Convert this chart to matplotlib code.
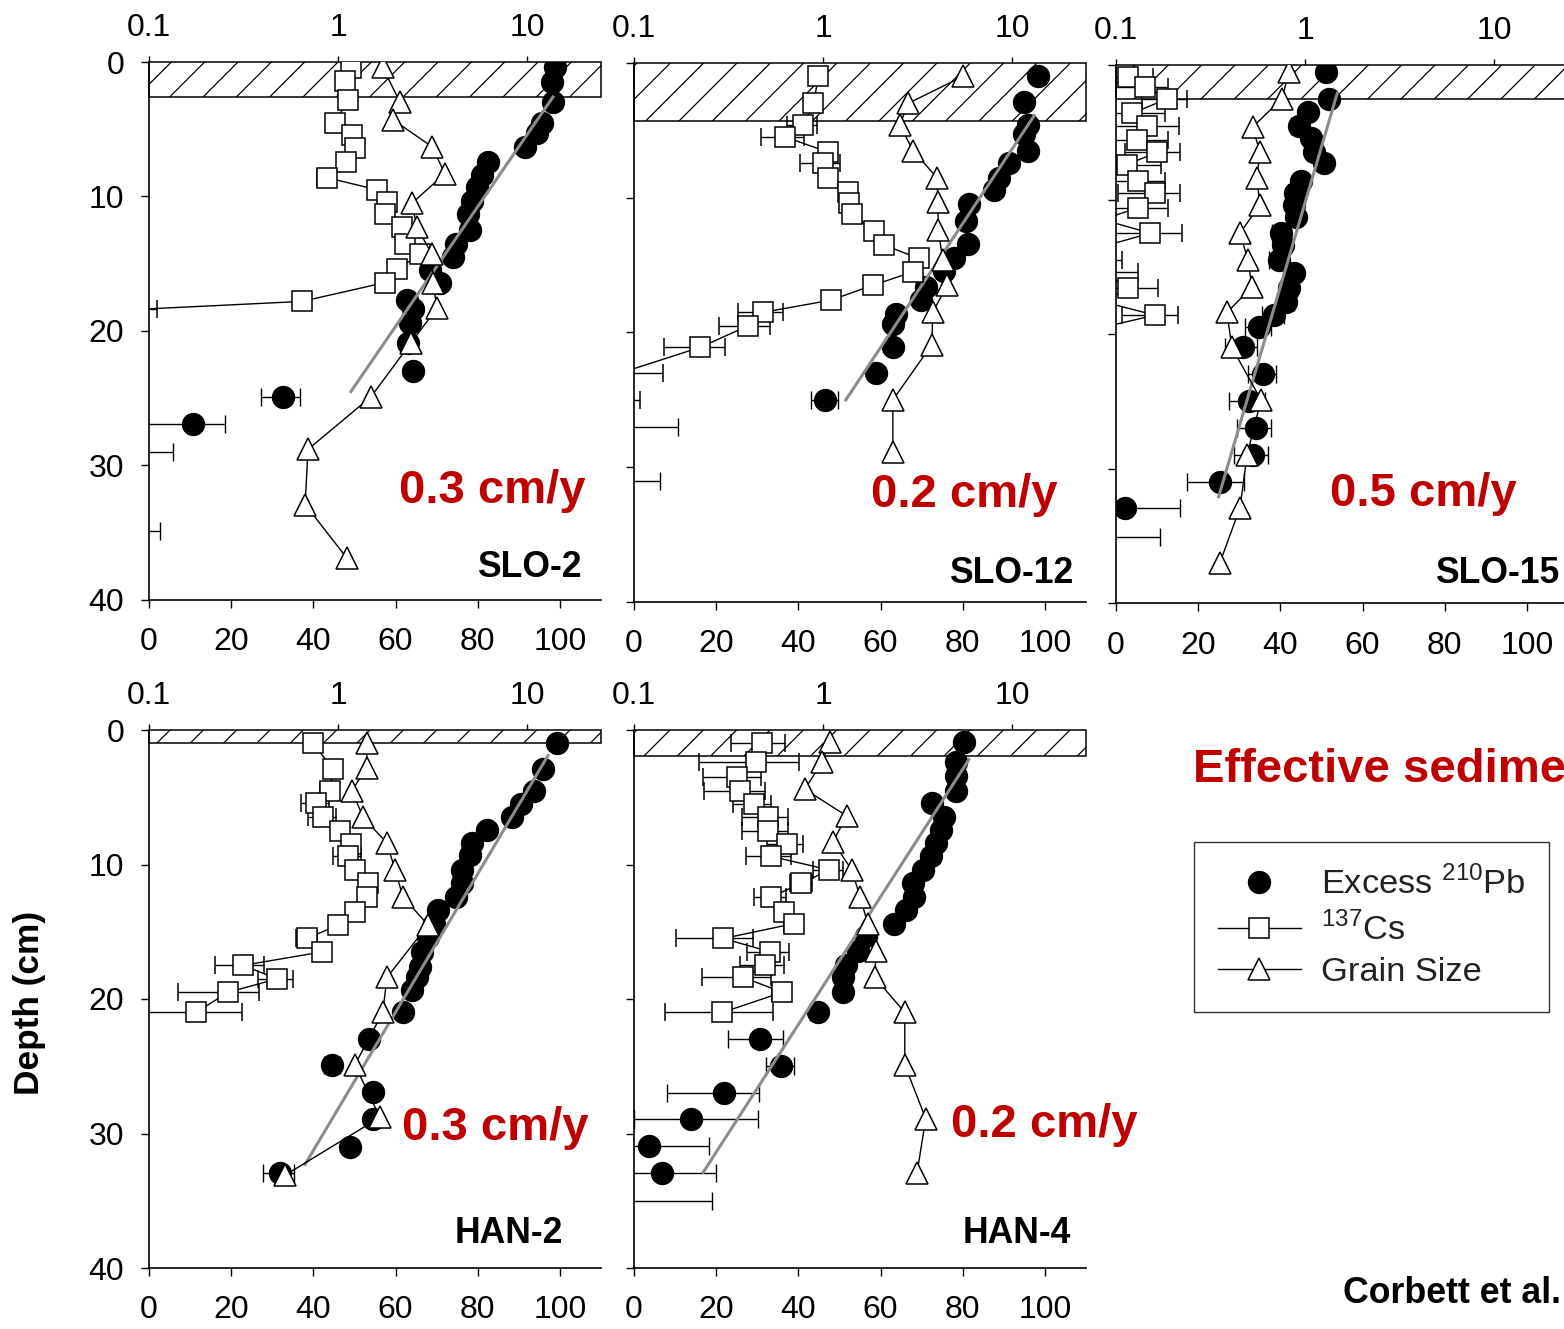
import numpy as np
import matplotlib
matplotlib.use("Agg")
import matplotlib.pyplot as plt
from matplotlib.patches import Rectangle
from matplotlib.lines import Line2D
from matplotlib.ticker import NullLocator

plt.rcParams['font.family'] = 'Liberation Sans'
plt.rcParams['mathtext.fontset'] = 'custom'
plt.rcParams['mathtext.rm'] = 'Liberation Sans'
plt.rcParams['hatch.linewidth'] = 0.45

# ---- SLO-2 ----
slo2_pb_depth = [0.4, 1.5, 3.0, 4.5, 5.3, 6.3, 7.4, 8.4, 9.3, 10.3, 11.3, 12.5, 13.5, 14.5, 15.5, 16.4,
                 17.7, 18.4, 19.4, 20.9, 23.0, 24.9, 26.9, 29.0, 34.9]
slo2_pb = [14.1, 13.6, 13.7, 12.0, 11.3, 9.75, 6.22, 5.78, 5.44, 5.12, 4.87, 4.99, 4.21, 4.06, 3.07, 3.47,
           2.32, 2.49, 2.40, 2.35, 2.49, 0.51, 0.17, 0.085, 0.085]
slo2_pb_err = [0.5, 0.5, 0.5, 0.45, 0.4, 0.35, 0.25, 0.22, 0.2, 0.2, 0.2, 0.2, 0.18, 0.18, 0.15, 0.15,
               0.12, 0.12, 0.12, 0.12, 0.12, 0.12, 0.083, 0.049, 0.029]
slo2_cs_depth = [0.45, 1.4, 2.8, 4.5, 5.4, 6.4, 7.4, 8.6, 9.5, 10.4, 11.3, 12.3, 13.5, 14.3, 15.4, 16.4, 17.8, 18.4]
slo2_cs = [1.17, 1.09, 1.13, 0.964, 1.19, 1.23, 1.10, 0.874, 1.61, 1.82, 1.77, 2.18, 2.26, 2.72, 2.05, 1.77,
           0.645, 0.085]
slo2_cs_err = [0.06, 0.06, 0.06, 0.05, 0.06, 0.06, 0.06, 0.1, 0.08, 0.09, 0.09, 0.1, 0.1, 0.12, 0.1, 0.09,
               0.05, 0.025]
slo2_gs_depth = [0.4, 3.0, 4.3, 6.3, 8.3, 10.5, 12.3, 14.3, 16.4, 18.3, 20.9, 24.9, 28.8, 32.9, 36.9]
slo2_gs = [56.9, 61.1, 59.4, 68.9, 72.0, 64.0, 65.2, 68.9, 69.1, 70.1, 63.7, 54.0, 38.7, 38.0, 48.2]
slo2_fit_depth = [2.6, 24.5]
slo2_fit = [13.7, 1.17]
slo2_mixed = 2.6

# ---- SLO-12 ----
slo12_pb_depth = [1.0, 2.9, 4.6, 5.3, 6.5, 7.4, 8.5, 9.4, 10.5, 11.7, 13.4, 14.5, 15.4, 16.6, 17.6, 18.6,
                  19.4, 21.1, 23.0, 25.0, 27.0, 31.0]
slo12_pb = [13.7, 11.6, 12.2, 11.6, 12.2, 9.64, 8.53, 8.03, 5.91, 5.70, 5.84, 4.92, 4.36, 3.50, 3.29, 2.43,
            2.34, 2.34, 1.90, 1.03, 0.085, 0.085]
slo12_pb_err = [0.5, 0.45, 0.45, 0.45, 0.45, 0.4, 0.35, 0.3, 0.25, 0.25, 0.25, 0.2, 0.2, 0.15, 0.15, 0.12,
                0.12, 0.12, 0.1, 0.17, 0.086, 0.052]
slo12_cs_depth = [1.0, 3.0, 4.6, 5.5, 6.6, 7.4, 8.5, 9.6, 10.4, 11.2, 12.5, 13.5, 14.5, 15.5, 16.5, 17.6,
                  18.5, 19.5, 21.1, 23.0, 25.0]
slo12_cs = [0.946, 0.890, 0.788, 0.632, 1.06, 0.994, 1.06, 1.35, 1.37, 1.43, 1.85, 2.09, 3.21, 2.99, 1.83,
            1.10, 0.484, 0.402, 0.224, 0.085, 0.085]
slo12_cs_err = [0.05, 0.05, 0.14, 0.16, 0.08, 0.24, 0.08, 0.12, 0.08, 0.08, 0.1, 0.1, 0.12, 0.12, 0.1, 0.07,
                0.13, 0.12, 0.08, 0.057, 0.022]
slo12_gs_depth = [1.0, 3.0, 4.6, 6.5, 8.5, 10.3, 12.4, 14.6, 16.5, 18.5, 20.9, 25.0, 28.9]
slo12_gs = [80.0, 66.7, 64.7, 67.9, 73.7, 74.0, 74.0, 75.2, 76.2, 72.7, 72.5, 63.0, 63.0]
slo12_fit_depth = [3.9, 25.0]
slo12_fit = [13.1, 1.32]
slo12_mixed = 4.3

# ---- SLO-15 ----
slo15_pb_depth = [0.5, 2.5, 3.5, 4.5, 5.4, 6.5, 7.3, 8.6, 9.5, 10.4, 11.3, 12.5, 13.4, 14.5, 15.5, 16.6,
                  17.6, 18.6, 19.5, 21.0, 23.0, 25.0, 27.0, 29.0, 31.0, 32.9, 35.1]
slo15_pb = [1.29, 1.34, 1.04, 0.929, 1.08, 1.12, 1.26, 0.952, 0.885, 0.874, 0.896, 0.745, 0.764, 0.727,
            0.874, 0.822, 0.793, 0.684, 0.569, 0.468, 0.598, 0.504, 0.549, 0.529, 0.357, 0.112, 0.085]
slo15_pb_err = [0.06, 0.06, 0.06, 0.09, 0.06, 0.06, 0.06, 0.07, 0.07, 0.07, 0.07, 0.08, 0.08, 0.08, 0.08,
                0.08, 0.08, 0.09, 0.09, 0.09, 0.1, 0.11, 0.11, 0.11, 0.12, 0.107, 0.086]
slo15_cs_depth = [0.9, 1.6, 2.5, 3.6, 4.5, 5.6, 6.5, 7.4, 8.6, 9.5, 10.6, 11.5, 12.5, 13.5, 14.5, 15.4,
                  16.6, 17.6, 18.6, 19.5]
slo15_cs = [0.116, 0.143, 0.187, 0.122, 0.146, 0.129, 0.165, 0.114, 0.131, 0.161, 0.131, 0.085, 0.152,
            0.085, 0.085, 0.085, 0.116, 0.085, 0.161, 0.085]
slo15_cs_err = [0.04, 0.046, 0.05, 0.06, 0.07, 0.06, 0.054, 0.06, 0.05, 0.058, 0.058, 0.005, 0.072, 0.005,
                0.023, 0.046, 0.05, 0.005, 0.053, 0.005]
slo15_gs_depth = [0.5, 2.5, 4.6, 6.5, 8.4, 10.4, 12.5, 14.5, 16.5, 18.4, 21.0, 24.9, 29.0, 32.9, 37.0]
slo15_gs = [42.1, 40.4, 33.3, 35.0, 34.3, 35.0, 30.2, 32.1, 33.1, 27.0, 28.2, 35.3, 31.9, 30.2, 25.3]
slo15_fit_depth = [2.1, 32.1]
slo15_fit = [1.48, 0.349]
slo15_mixed = 2.5

# ---- HAN-2 ----
han2_pb_depth = [1.0, 2.9, 4.5, 5.5, 6.5, 7.4, 8.4, 9.3, 10.4, 11.4, 12.4, 13.4, 14.4, 15.4, 16.5, 17.6,
                 18.4, 19.3, 21.0, 23.0, 24.9, 26.9, 28.9, 31.0, 32.9]
han2_pb = [14.4, 12.2, 10.9, 9.30, 8.33, 6.14, 5.12, 4.99, 4.53, 4.53, 4.21, 3.38, 3.2, 2.99, 2.78, 2.72,
           2.62, 2.46, 2.21, 1.46, 0.929, 1.53, 1.53, 1.16, 0.493]
han2_pb_err = [0.5, 0.45, 0.4, 0.35, 0.3, 0.25, 0.2, 0.2, 0.18, 0.18, 0.17, 0.14, 0.13, 0.12, 0.12, 0.11,
               0.11, 0.1, 0.1, 0.08, 0.09, 0.08, 0.08, 0.07, 0.09]
han2_cs_depth = [1.0, 2.9, 4.5, 5.4, 6.5, 7.5, 8.5, 9.4, 10.4, 11.4, 12.4, 13.5, 14.5, 15.5, 16.5, 17.5,
                 18.5, 19.5, 21.0]
han2_cs = [0.738, 0.941, 0.907, 0.765, 0.833, 1.03, 1.17, 1.13, 1.23, 1.44, 1.42, 1.23, 1.0, 0.686, 0.823,
           0.314, 0.476, 0.262, 0.177]
han2_cs_err = [0.04, 0.05, 0.1, 0.13, 0.14, 0.06, 0.07, 0.19, 0.07, 0.08, 0.08, 0.07, 0.06, 0.09, 0.07,
               0.09, 0.1, 0.12, 0.133]
han2_gs_depth = [1.0, 2.8, 4.5, 6.5, 8.4, 10.4, 12.4, 14.5, 18.4, 21.0, 24.9, 28.8, 33.1]
han2_gs = [53.0, 53.0, 49.4, 52.1, 57.9, 59.9, 61.8, 67.9, 57.9, 56.9, 50.1, 56.2, 33.1]
han2_fit_depth = [1.9, 32.3]
han2_fit = [12.9, 0.669]
han2_mixed = 1.0

# ---- HAN-4 ----
han4_pb_depth = [0.9, 2.4, 3.4, 4.5, 5.4, 6.5, 7.4, 8.4, 9.4, 10.4, 11.4, 12.4, 13.4, 14.4, 15.3, 16.4,
                 17.5, 18.4, 19.5, 21.0, 23.0, 25.0, 27.0, 28.9, 30.9, 32.9, 35.0]
han4_pb = [5.56, 5.05, 5.05, 5.05, 3.76, 4.36, 4.20, 3.95, 3.72, 3.37, 2.99, 3.02, 2.74, 2.37, 1.68, 1.54,
           1.33, 1.28, 1.27, 0.935, 0.466, 0.602, 0.300, 0.201, 0.120, 0.141, 0.085]
han4_pb_err = [0.2, 0.2, 0.2, 0.2, 0.15, 0.15, 0.15, 0.15, 0.15, 0.13, 0.12, 0.12, 0.1, 0.1, 0.08, 0.08,
               0.07, 0.07, 0.07, 0.08, 0.15, 0.1, 0.16, 0.25, 0.13, 0.13, 0.174]
han4_cs_depth = [1.0, 2.4, 3.5, 4.5, 5.5, 6.5, 7.5, 8.5, 9.4, 10.4, 11.4, 12.4, 13.5, 14.4, 15.5, 16.5,
                 17.5, 18.4, 19.5, 21.0]
han4_cs = [0.477, 0.444, 0.352, 0.365, 0.433, 0.514, 0.514, 0.648, 0.533, 1.08, 0.769, 0.533, 0.625, 0.698,
           0.297, 0.527, 0.495, 0.379, 0.610, 0.293]
han4_cs_err = [0.15, 0.3, 0.12, 0.13, 0.1, 0.14, 0.14, 0.14, 0.14, 0.2, 0.1, 0.1, 0.07, 0.08, 0.13, 0.13,
               0.13, 0.15, 0.07, 0.25]
han4_gs_depth = [0.9, 2.4, 4.4, 6.4, 8.3, 10.4, 12.4, 14.4, 16.4, 18.4, 21.0, 24.9, 28.9, 32.9]
han4_gs = [47.7, 45.7, 41.6, 51.8, 48.4, 53.0, 55.0, 56.9, 58.9, 58.6, 65.9, 65.9, 71.0, 68.9]
han4_fit_depth = [2.2, 32.9]
han4_fit = [5.91, 0.232]
han4_mixed = 1.9

W, H = 1564, 1329
fig = plt.figure(figsize=(W / 200, H / 200), dpi=200)
fig.patch.set_facecolor('white')

TICK = 11.5


def px_rect(left, top, bottom, width=452):
    return [left / W, 1 - bottom / H, width / W, (bottom - top) / H]


def draw_core(rect, pb_d, pb, pb_e, cs_d, cs, cs_e, gs_d, gs, fit_d, fit, mixed, ylabels):
    ax = fig.add_axes(rect)
    ax.set_xscale('log')
    gx = ax.twiny()
    ax.set_xlim(0.1, 24.6)
    ax.set_ylim(40, 0)
    gx.set_xlim(0, 110)

    ax.xaxis.tick_top()
    ax.set_xticks([0.1, 1, 10])
    ax.set_xticklabels(['0.1', '1', '10'])
    ax.xaxis.set_minor_locator(NullLocator())
    ax.tick_params(axis='x', which='major', direction='out', length=2.2, width=0.5,
                   pad=4.5, labelsize=TICK, top=True, bottom=False, labeltop=True, labelbottom=False)
    ax.set_yticks([0, 10, 20, 30, 40])
    ax.tick_params(axis='y', direction='out', length=2.9, width=0.5, pad=6,
                   labelsize=TICK, labelleft=ylabels)
    for s in ['top', 'right', 'bottom']:
        ax.spines[s].set_visible(False)
    ax.spines['left'].set_linewidth(0.6)

    gx.xaxis.tick_bottom()
    gx.set_xticks([0, 20, 40, 60, 80, 100])
    gx.tick_params(axis='x', direction='out', length=2.9, width=0.5, pad=7, labelsize=TICK,
                   bottom=True, top=False, labelbottom=True, labeltop=False)
    for s in ['top', 'right', 'left']:
        gx.spines[s].set_visible(False)
    gx.spines['bottom'].set_linewidth(0.6)

    # surface mixed layer
    ax.add_patch(Rectangle((0, 0), 1, mixed, transform=ax.get_yaxis_transform(),
                           facecolor='none', edgecolor='black', hatch='//', lw=0.55,
                           clip_on=False, zorder=1))

    pb = np.array(pb)
    pb_e = np.array(pb_e)
    ax.errorbar(pb, pb_d, xerr=[np.minimum(pb_e, 0.5 * pb), pb_e], fmt='o', ms=7.4,
                mfc='black', mec='black', ecolor='black', elinewidth=0.5, capsize=3.2,
                capthick=0.5, zorder=3)
    ax.plot(fit, fit_d, color='#8c8c8c', lw=1.1, zorder=4)

    cs = np.array(cs)
    cs_e = np.array(cs_e)
    ax.errorbar(cs, cs_d, xerr=[np.minimum(cs_e, 0.5 * cs), cs_e], fmt='-s', ms=7,
                mfc='white', mec='black', mew=0.55, color='black', lw=0.5,
                ecolor='black', elinewidth=0.5, capsize=3.2, capthick=0.5, zorder=5)

    gx.plot(gs, gs_d, '-^', ms=7.6, mfc='white', mec='black', mew=0.55, color='black', lw=0.5,
            zorder=6)
    return ax


draw_core(px_rect(149, 62, 600), slo2_pb_depth, slo2_pb, slo2_pb_err, slo2_cs_depth, slo2_cs,
          slo2_cs_err, slo2_gs_depth, slo2_gs, slo2_fit_depth, slo2_fit, slo2_mixed, True)
draw_core(px_rect(634, 63, 602), slo12_pb_depth, slo12_pb, slo12_pb_err, slo12_cs_depth, slo12_cs,
          slo12_cs_err, slo12_gs_depth, slo12_gs, slo12_fit_depth, slo12_fit, slo12_mixed, False)
draw_core(px_rect(1116, 65, 603), slo15_pb_depth, slo15_pb, slo15_pb_err, slo15_cs_depth, slo15_cs,
          slo15_cs_err, slo15_gs_depth, slo15_gs, slo15_fit_depth, slo15_fit, slo15_mixed, False)
draw_core(px_rect(149, 730, 1268), han2_pb_depth, han2_pb, han2_pb_err, han2_cs_depth, han2_cs,
          han2_cs_err, han2_gs_depth, han2_gs, han2_fit_depth, han2_fit, han2_mixed, True)
draw_core(px_rect(634, 730, 1268), han4_pb_depth, han4_pb, han4_pb_err, han4_cs_depth, han4_cs,
          han4_cs_err, han4_gs_depth, han4_gs, han4_fit_depth, han4_fit, han4_mixed, False)


def ftext(x, y, s, **kw):
    fig.text(x / W, 1 - y / H, s, **kw)


RED = '#C00000'
for x, y, s in [(492, 503, '0.3 cm/y'), (964, 507, '0.2 cm/y'), (1423, 506, '0.5 cm/y'),
                (495, 1140, '0.3 cm/y'), (1044, 1137, '0.2 cm/y')]:
    ftext(x, y, s, ha='center', va='baseline', fontsize=17, fontweight='bold', color=RED)

for x, y, s in [(582, 577, 'SLO-2'), (1073, 583, 'SLO-12'), (1559, 583, 'SLO-15'),
                (563, 1243, 'HAN-2'), (1071, 1243, 'HAN-4')]:
    ftext(x, y, s, ha='right', va='baseline', fontsize=12.8, fontweight='bold')

ftext(30, 1003, 'Depth (cm)', rotation=90, ha='center', va='center', fontsize=12.7,
      fontweight='bold')
# this title runs past the right edge in the source figure as well
ftext(1193, 782, 'Effective sedimentation rate', ha='left', va='baseline', fontsize=17,
      fontweight='bold', color=RED)
ftext(1343, 1303, 'Corbett et al.', ha='left', va='baseline', fontsize=12.9, fontweight='bold')

handles = [
    Line2D([], [], ls='none', marker='o', ms=7.4, mfc='black', mec='black'),
    Line2D([], [], color='black', lw=0.5, marker='s', ms=7, mfc='white', mec='black', mew=0.55),
    Line2D([], [], color='black', lw=0.5, marker='^', ms=7.6, mfc='white', mec='black', mew=0.55),
]
labels = ['Excess $^{210}$Pb', '$^{137}$Cs', 'Grain Size']
leg = fig.legend(handles, labels, loc='upper left', bbox_to_anchor=(1194 / W, 1 - 842 / H),
                 borderaxespad=0, frameon=True, fancybox=False, edgecolor='black',
                 fontsize=12.4, handlelength=2.4, handletextpad=0.58, borderpad=0.7,
                 labelspacing=0.3)
leg.get_frame().set_linewidth(0.5)
for t in leg.get_texts():
    t.set_color('#222222')

fig.savefig('out.png', dpi=200)
